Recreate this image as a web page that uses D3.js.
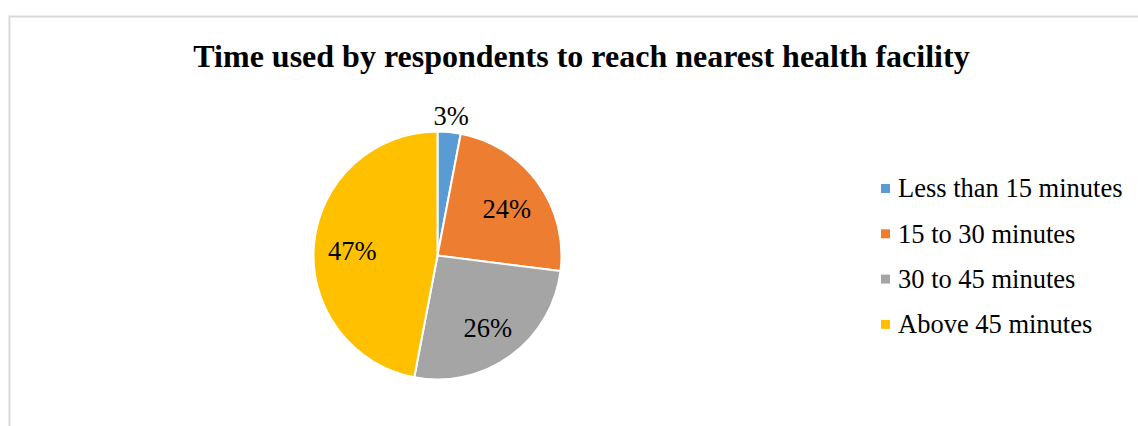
<!DOCTYPE html>
<html>
<head>
<meta charset="utf-8">
<script src="https://cdn.jsdelivr.net/npm/d3@7"></script>
<style>
  body { margin: 0; background: #fff; }
  svg { display: block; }
</style>
</head>
<body>
<div id="grafico"></div>
<script>
const categorias = ["Less than 15 minutes", "15 to 30 minutes", "30 to 45 minutes", "Above 45 minutes"];
const valores = [3, 24, 26, 47];
const cores = ["#5B9BD5", "#ED7D31", "#A5A5A5", "#FFC000"];
const titulo = "Time used by respondents to reach nearest health facility";

const fonte = "'Liberation Serif', 'Times New Roman', Times, 'DejaVu Serif', serif";
const width = 1138;
const height = 426;

const svg = d3
  .select("#grafico")
  .append("svg")
  .attr("width", width)
  .attr("height", height)
  .style("font-family", fonte);

// moldura do grafico
svg
  .append("rect")
  .attr("x", 9.5)
  .attr("y", 16.5)
  .attr("width", 1140)
  .attr("height", 420)
  .attr("fill", "none")
  .attr("stroke", "#d9d9d9")
  .attr("stroke-width", 2);

svg
  .append("text")
  .attr("x", 581.5)
  .attr("y", 66.5)
  .attr("text-anchor", "middle")
  .style("font-size", "32px")
  .style("font-weight", "bold")
  .text(titulo);

const cx = 437.5;
const cy = 255.5;
const raio = 124;

const data = categorias.map((c, i) => ({ categoria: c, valor: valores[i], cor: cores[i] }));

const pie = d3.pie().value((d) => d.valor).sort(null);
const arc = d3.arc().innerRadius(0).outerRadius(raio);
const arcLabel = d3.arc().innerRadius(raio * 0.69).outerRadius(raio * 0.69);
const arcFora = d3.arc().innerRadius(raio * 1.16).outerRadius(raio * 1.16);

const total = d3.sum(valores);
const g = svg.append("g").attr("transform", `translate(${cx},${cy})`);

const fatias = pie(data);

g.selectAll("path")
  .data(fatias)
  .enter()
  .append("path")
  .attr("d", arc)
  .attr("fill", (d) => d.data.cor)
  .attr("stroke", "#fff")
  .attr("stroke-width", 2);

// fatias pequenas ficam com o rotulo do lado de fora
g.selectAll(".rotulo")
  .data(fatias)
  .enter()
  .append("text")
  .attr("class", "rotulo")
  .attr("transform", (d) => {
    const p = d.data.valor / total < 0.05 ? arcFora.centroid(d) : arcLabel.centroid(d);
    return `translate(${p[0]},${p[1] + 4})`;
  })
  .attr("text-anchor", "middle")
  .attr("dy", "0.33em")
  .style("font-size", "26.5px")
  .style("fill", "#000")
  .text((d) => `${d.data.valor}%`);

// legenda
const legend = svg
  .selectAll(".legend")
  .data(data)
  .enter()
  .append("g")
  .attr("class", "legend")
  .attr("transform", (d, i) => `translate(881, ${188.5 + i * 45.3})`);

legend
  .append("rect")
  .attr("x", 0)
  .attr("y", -4.5)
  .attr("width", 9)
  .attr("height", 9)
  .style("fill", (d) => d.cor);

legend
  .append("text")
  .attr("x", 17)
  .attr("y", 0)
  .attr("dy", "0.33em")
  .style("font-size", "26.5px")
  .style("fill", "#000")
  .text((d) => d.categoria);
</script>
</body>
</html>
